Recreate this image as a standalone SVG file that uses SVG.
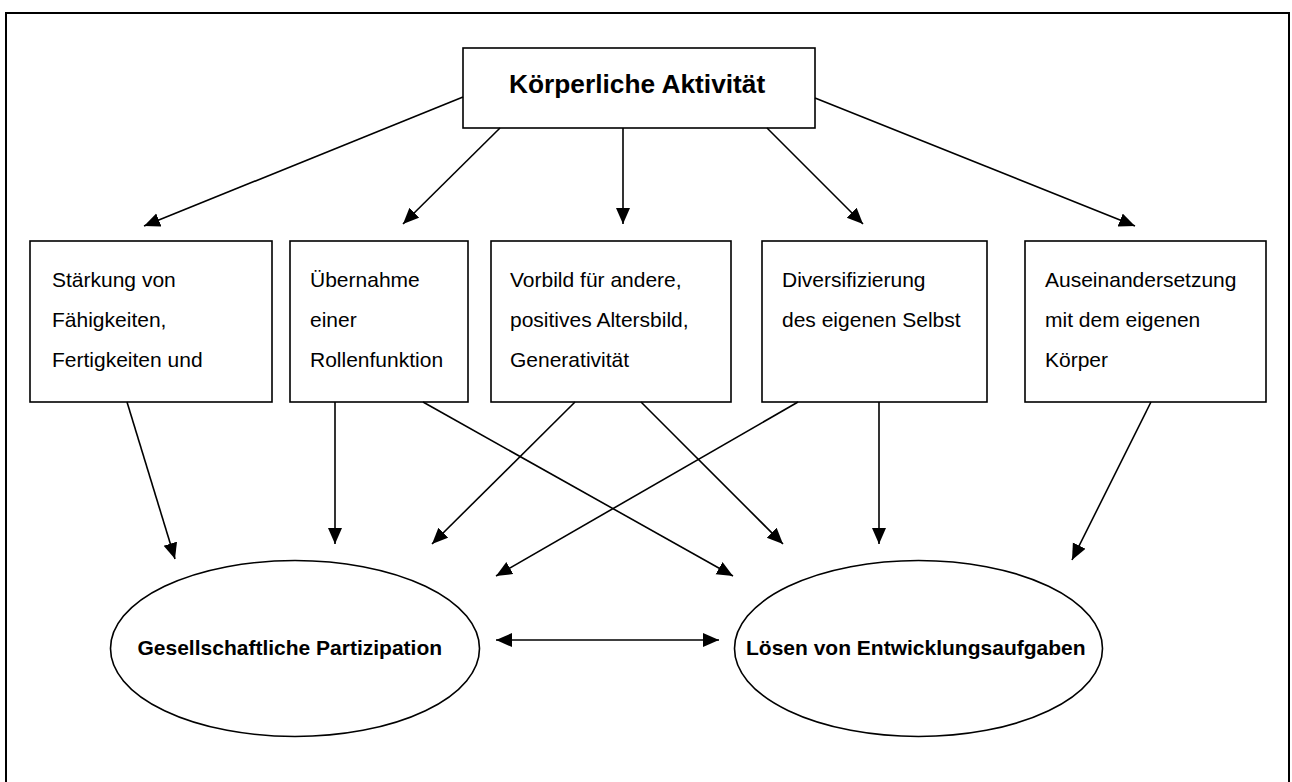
<svg xmlns="http://www.w3.org/2000/svg" width="1292" height="782" viewBox="0 0 1292 782">
<style>
.box{fill:#fff;stroke:#000;stroke-width:1.6}
.t{font-family:"Liberation Sans",Arial,sans-serif;font-size:21px;fill:#000}
.b{font-weight:bold}
.c line{stroke:#000;stroke-width:1.6;marker-end:url(#ah)}
</style>
<defs>
<marker id="ah" markerUnits="userSpaceOnUse" markerWidth="17" markerHeight="15" refX="16" refY="7" orient="auto-start-reverse">
<path d="M0,0 L16,7 L0,14 z" fill="#000"/>
</marker>
</defs>
<rect x="0" y="0" width="1292" height="782" fill="#fff"/>
<rect id="frame" x="6" y="13" width="1283" height="790" fill="none" stroke="#000" stroke-width="2"/>
<g id="top">
<rect class="box" x="463" y="48" width="352" height="80"/>
<text class="t b" x="509" y="93" style="font-size:26.3px">Körperliche Aktivität</text>
</g>
<g id="n1">
<rect class="box" x="30" y="241" width="242" height="161"/>
<text class="t" x="52" y="287">Stärkung von</text>
<text class="t" x="52" y="327">Fähigkeiten,</text>
<text class="t" x="52" y="367">Fertigkeiten und</text>
</g>
<g id="n2">
<rect class="box" x="290" y="241" width="178" height="161"/>
<text class="t" x="310" y="287">Übernahme</text>
<text class="t" x="310" y="327">einer</text>
<text class="t" x="310" y="367">Rollenfunktion</text>
</g>
<g id="n3">
<rect class="box" x="491" y="241" width="240" height="161"/>
<text class="t" x="510" y="287">Vorbild für andere,</text>
<text class="t" x="510" y="327">positives Altersbild,</text>
<text class="t" x="510" y="367">Generativität</text>
</g>
<g id="n4">
<rect class="box" x="762" y="241" width="225" height="161"/>
<text class="t" x="782" y="287">Diversifizierung</text>
<text class="t" x="782" y="327">des eigenen Selbst</text>
</g>
<g id="n5">
<rect class="box" x="1025" y="241" width="241" height="161"/>
<text class="t" x="1045" y="287">Auseinandersetzung</text>
<text class="t" x="1045" y="327">mit dem eigenen</text>
<text class="t" x="1045" y="367">Körper</text>
</g>
<g id="e1">
<ellipse class="box" cx="295" cy="648.5" rx="184.5" ry="88"/>
<text class="t b" x="137.5" y="655">Gesellschaftliche Partizipation</text>
</g>
<g id="e2">
<ellipse class="box" cx="918.5" cy="648.5" rx="184" ry="88"/>
<text class="t b" x="746" y="655">Lösen von Entwicklungsaufgaben</text>
</g>
<g class="c" id="connectors">
<line x1="463" y1="97" x2="144" y2="226"/>
<line x1="500" y1="128" x2="403" y2="224"/>
<line x1="623" y1="128" x2="623" y2="224"/>
<line x1="767" y1="128" x2="863" y2="224"/>
<line x1="815" y1="98" x2="1135" y2="226"/>
<line x1="127" y1="402" x2="175" y2="559"/>
<line x1="335" y1="402" x2="335" y2="544"/>
<line x1="423" y1="402" x2="733" y2="576"/>
<line x1="575" y1="402" x2="432" y2="544"/>
<line x1="641" y1="402" x2="783" y2="544"/>
<line x1="798" y1="402" x2="496" y2="576"/>
<line x1="879" y1="402" x2="879" y2="544"/>
<line x1="1151" y1="402" x2="1072" y2="560"/>
<line x1="496" y1="640" x2="719" y2="640" style="marker-start:url(#ah)"/>
</g>
</svg>
